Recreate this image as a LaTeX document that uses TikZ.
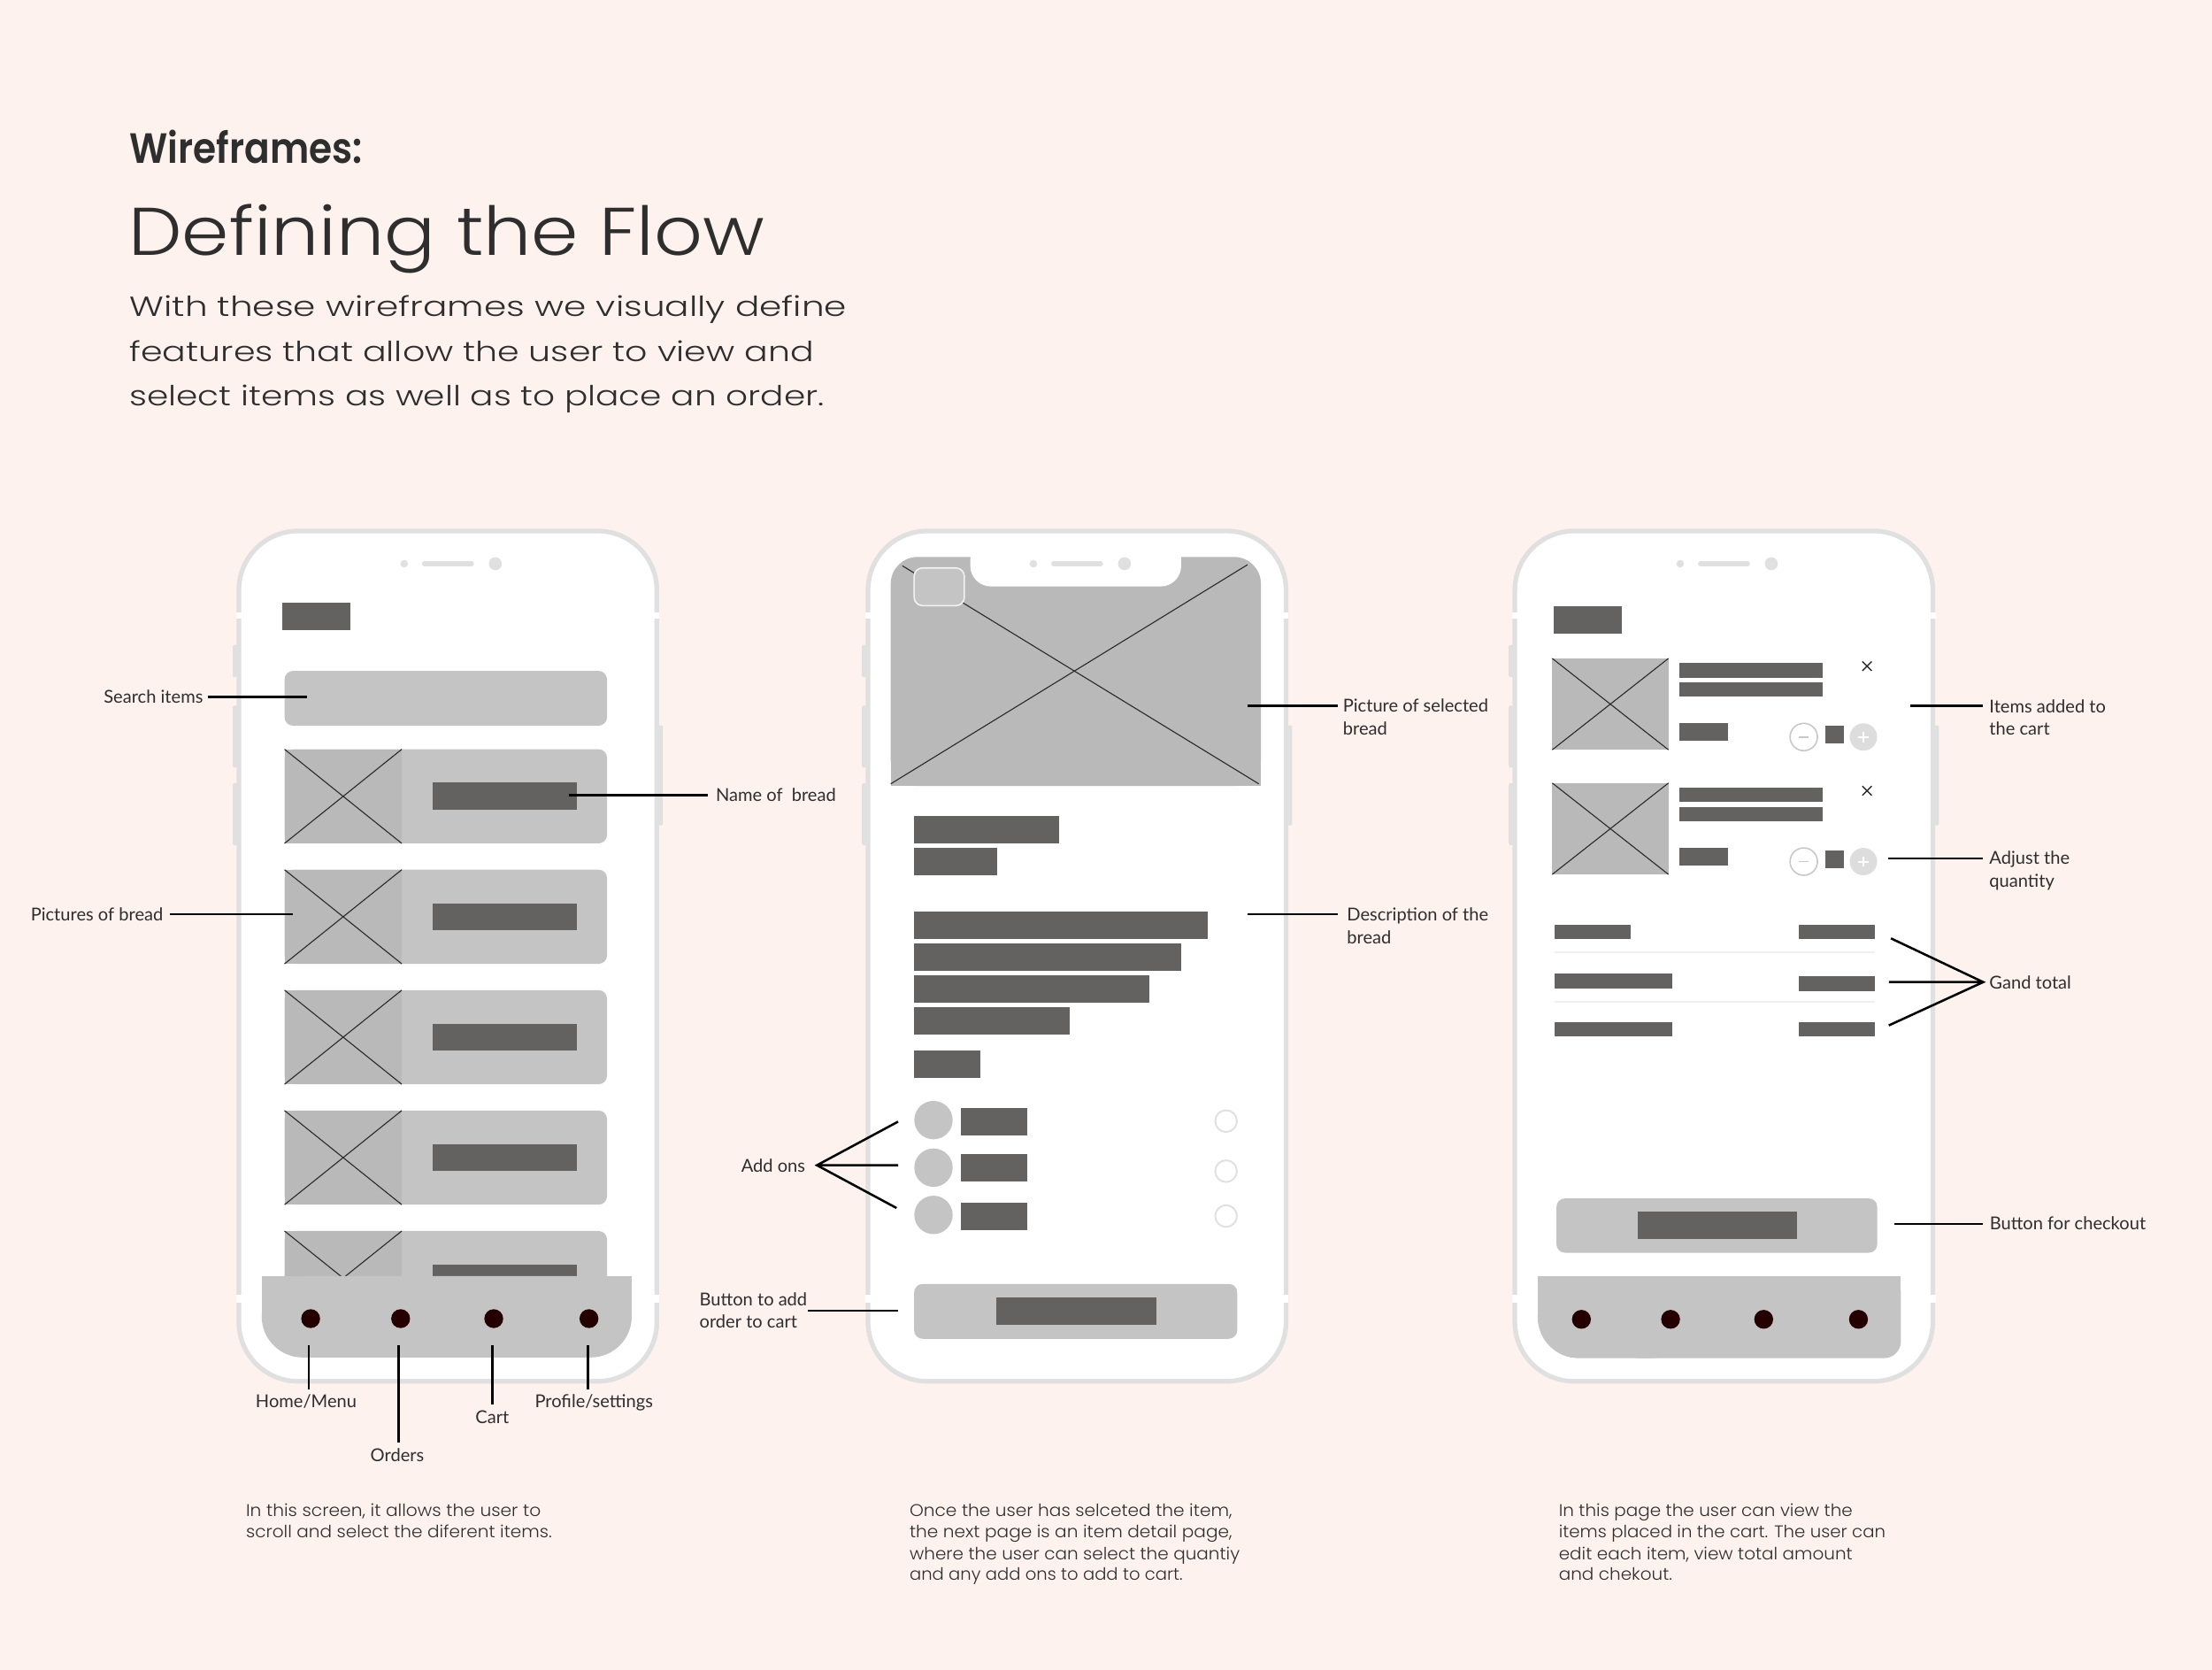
\documentclass[tikz,border=0pt]{standalone}
\usepackage{fontspec}
\setmainfont{Lato}
\newfontfamily\pop{Poppins}
\IfFontExistsTF{Poppins Light}{\newfontfamily\popl{Poppins Light}}{\newfontfamily\popl{Poppins}}
\IfFontExistsTF{Poppins SemiBold}{\newfontfamily\popsb{Poppins SemiBold}}{\newfontfamily\popsb{Poppins}[UprightFont=*, BoldFont=*]\def\popsbx{\bfseries}}
\providecommand{\popsbx}{}
\usetikzlibrary{calc}
\definecolor{bgc}{HTML}{FDF2EE}
\definecolor{framec}{HTML}{E0E0E0}
\definecolor{cardc}{HTML}{C4C4C4}
\definecolor{imgc}{HTML}{BAB9BA}
\definecolor{barc}{HTML}{636261}
\definecolor{dotc}{HTML}{250000}
\definecolor{txt}{HTML}{2E2E2E}
\definecolor{xlc}{HTML}{2A2A2A}
\definecolor{minusc}{HTML}{C8C8C8}
\definecolor{plusc}{HTML}{DDDDDD}
\definecolor{divc}{HTML}{F1EEEE}
\newcommand{\lbf}{\fontsize{6.3}{8}\selectfont}
\newcommand{\dsf}{\popl\fontsize{6}{7.5}\selectfont}
\newcommand{\speakerset}[1]{%
  \fill[framec] ({#1+117.2},399.5) circle[radius=1.35pt];
  \draw[framec, line width=1.65pt, line cap=round] ({#1+131.5},399.5) -- ({#1+165},399.5);
  \fill[framec] ({#1+181.8},399.5) circle[radius=2.3pt];}
\newcommand{\phoneframe}[1]{%
  \begin{scope}[shift={(#1,0)}]
    \fill[framec, rounded corners=0.7pt] (-4.3,457) rectangle (-1.2,480);
    \fill[framec, rounded corners=0.7pt] (-4.3,500) rectangle (-1.2,544);
    \fill[framec, rounded corners=0.7pt] (-4.3,555) rectangle (-1.2,599);
    \fill[framec, rounded corners=0.7pt] (297.5,514) rectangle (300.6,585);
    \filldraw[fill=white, draw=framec, line width=1.65pt, rounded corners=21pt] (0,376.3) rectangle (296.3,978.9);
    \fill[white] (-1.9,434) rectangle (1.9,438.6);
    \fill[white] (294.4,434) rectangle (298.2,438.6);
    \fill[white] (-1.9,917.6) rectangle (1.9,923);
    \fill[white] (294.4,917.6) rectangle (298.2,923);
  \end{scope}
  \speakerset{#1}}
\newcommand{\pcard}[1]{%
  \fill[cardc, rounded corners=3pt] (201.7,#1) rectangle (430.3,{#1+66.7});
  \fill[imgc] (201.7,#1) rectangle (284.8,{#1+66.7});
  \draw[xline] (201.7,#1) -- (284.8,{#1+66.7}) (284.8,#1) -- (201.7,{#1+66.7});
  \fill[barc] (306.7,{#1+23.7}) rectangle (408.7,{#1+43});}
\newcommand{\cartitem}[1]{%
  \fill[imgc] (1100.3,{466.6+#1}) rectangle (1182.7,{531.4+#1});
  \draw[xline] (1100.3,{466.6+#1}) -- (1182.7,{531.4+#1}) (1182.7,{466.6+#1}) -- (1100.3,{531.4+#1});
  \fill[barc] (1190.1,{470+#1}) rectangle (1291.8,{480.2+#1});
  \fill[barc] (1190.1,{483.4+#1}) rectangle (1291.8,{493.6+#1});
  \fill[barc] (1190.1,{512.4+#1}) rectangle (1224.9,{525+#1});
  \draw[xlc, line width=0.45pt] (1320.1,{468.8+#1}) -- (1326.7,{475.4+#1}) (1326.7,{468.8+#1}) -- (1320.1,{475.4+#1});
  \filldraw[fill=white, draw=minusc, line width=0.5pt] (1278.6,{522.3+#1}) circle[radius=4.85pt];
  \draw[minusc, line width=0.5pt] (1275,{522.3+#1}) -- (1282.2,{522.3+#1});
  \fill[barc] (1293.6,{514.3+#1}) rectangle (1307,{526.8+#1});
  \fill[plusc] (1320.9,{522.3+#1}) circle[radius=4.85pt];
  \draw[white, line width=0.6pt] (1317.3,{522.3+#1}) -- (1324.5,{522.3+#1}) (1320.9,{518.7+#1}) -- (1320.9,{525.9+#1});}
\begin{document}
\begin{tikzpicture}[x=0.5pt,y=-0.5pt,
  xline/.style={draw=xlc, line width=0.35pt},
  lead/.style={draw=black, line width=0.8pt},
  lbl/.style={font=\lbf, text=txt, inner sep=0pt},
  dsc/.style={text=txt, inner sep=0pt, anchor=base west},
  navdot/.style={fill=dotc}]
\fill[bgc] (0,0) rectangle (1568,1183.5);
\useasboundingbox (0,0) rectangle (1568,1183.5);

% ---------- headings ----------
\node[dsc] (wf) at (91.5,116) {\resizebox{82.5pt}{\height}{\popsb\popsbx\fontsize{15}{18}\selectfont Wireframes:}};
\node[dsc] (title) at (90.8,180.8) {\resizebox{225.4pt}{\height}{\popl\fontsize{23.9}{28}\selectfont Defining the Flow}};
\node[dsc] (sub1) at (91.5,224.1) {\resizebox{254.2pt}{\height}{\popl\fontsize{9.8}{12}\selectfont With these wireframes we visually define}};
\node[dsc] (sub2) at (91.5,256) {\resizebox{242.5pt}{\height}{\popl\fontsize{9.8}{12}\selectfont features that allow the user to view and}};
\node[dsc] (sub3) at (91.5,287.5) {\resizebox{246.2pt}{\height}{\popl\fontsize{9.8}{12}\selectfont select items as well as to place an order.}};

% ---------- phone frames ----------
\phoneframe{169.3}
\phoneframe{615.3}
\phoneframe{1073.8}

% ---------- phone 1: menu ----------
\fill[barc] (200,427) rectangle (248.5,446.6);
\fill[cardc, rounded corners=3pt] (201.7,475.5) rectangle (430.3,514.3);
\foreach \t in {531,616.35,701.7,787.05,872.4} {\pcard{\t}}
\fill[cardc, rounded corners=14.5pt] (185.5,904.4) rectangle (447.8,962);
\fill[cardc] (185.5,904.4) rectangle (447.8,934);
\foreach \x in {220.2,284,350,417.5} {\fill[navdot] (\x,934.5) circle[radius=3.35pt];}

% ---------- phone 2: detail ----------
\fill[imgc, rounded corners=9.5pt] (631.4,394.7) rectangle (893.8,557.1);
\fill[imgc] (631.4,440) rectangle (893.8,557.1);
\draw[xline] (639.7,401) -- (892.3,555.5) (884.3,400.2) -- (631.4,555.5);
\fill[white, rounded corners=7.3pt] (687.8,382) rectangle (837.3,415.6);
\speakerset{615.3}
\filldraw[fill=cardc, draw=white!80!cardc, line width=0.5pt, rounded corners=3pt] (648,402.5) rectangle (683.6,429.2);
\fill[barc] (648,578) rectangle (750.6,598);
\fill[barc] (648,600.7) rectangle (706.7,620);
\fill[barc] (648,646) rectangle (856,665.5);
\fill[barc] (648,668.5) rectangle (837,688);
\fill[barc] (648,691) rectangle (815,710.5);
\fill[barc] (648,713.5) rectangle (758,733);
\fill[barc] (648,744.3) rectangle (695.1,764.1);
\foreach \y/\b in {793.8/785, 827.5/818, 861/852.4} {
  \fill[cardc] (661.7,\y) circle[radius=6.8pt];
  \fill[barc] (681,\b) rectangle (728,{\b+19.4});}
\foreach \y in {794.5,830,861.8} {\filldraw[fill=white, draw=framec, line width=0.6pt] (869.1,\y) circle[radius=3.85pt];}
\fill[cardc, rounded corners=3pt] (648,909.9) rectangle (877,948.8);
\fill[barc] (706,919.5) rectangle (820,939.1);

% ---------- phone 3: cart ----------
\fill[barc] (1101.6,429.6) rectangle (1149.6,448.9);
\cartitem{0}
\cartitem{88.3}
\fill[barc] (1101.8,655.3) rectangle (1155.9,665.7);
\fill[barc] (1275.1,655.3) rectangle (1329.2,665.7);
\draw[divc, line width=0.6pt] (1102,674.8) -- (1329,674.8);
\fill[barc] (1101.8,690.1) rectangle (1185.7,700.5);
\fill[barc] (1275.1,691.9) rectangle (1329.2,702.3);
\draw[divc, line width=0.6pt] (1102,709.8) -- (1329,709.8);
\fill[barc] (1101.8,724.3) rectangle (1185.7,734.7);
\fill[barc] (1275.1,724.3) rectangle (1329.2,734.7);
\fill[cardc, rounded corners=3pt] (1103.3,849.3) rectangle (1330.7,887.8);
\fill[barc] (1161.1,858.8) rectangle (1273.8,878.3);
\fill[cardc, rounded corners=14.5pt] (1090,904.7) rectangle (1200,962.5);
\fill[cardc] (1090,904.7) rectangle (1347.5,934);
\fill[cardc, rounded corners=6pt] (1150,904.7) rectangle (1347.5,962.5);
\foreach \x in {1121,1184.2,1250.2,1317.4} {\fill[navdot] (\x,935) circle[radius=3.35pt];}

% ---------- labels phone 1 ----------
\node[lbl, anchor=base east] (lsearch) at (144.3,498.6) {Search items};
\coordinate (csearch) at (217.4,494);
\draw[lead] ($(lsearch.east |- csearch)+(3,0)$) -- (csearch);
\node[lbl, anchor=base east] (lpics) at (116,652.6) {Pictures of bread};
\coordinate (cpics) at (207.6,648);
\draw[lead] ($(lpics.east |- cpics)+(4.6,0)$) -- (cpics);
\node[lbl, anchor=base west] (lname) at (507,568) {Name of~ bread};
\coordinate (cname) at (403.5,563.4);
\draw[lead] (cname) -- ($(lname.west |- cname)+(-5,0)$);
\node[lbl, anchor=base] (lhome) at (217,997.6) {Home/Menu};
\node[lbl, anchor=base] (lorders) at (281.6,1035.6) {Orders};
\node[lbl, anchor=base] (lcart) at (349,1008.6) {Cart};
\node[lbl, anchor=base] (lprof) at (421,997.6) {Profile/settings};
\coordinate (n1) at (219,953.4);
\coordinate (n2) at (282.7,953.4);
\coordinate (n3) at (349,953.4);
\coordinate (n4) at (416.7,953.4);
\draw[lead] (n1) -- ($(n1 |- lhome.north)+(0,-3.5)$);
\draw[lead] (n2) -- ($(n2 |- lorders.north)+(0,-3.5)$);
\draw[lead] (n3) -- ($(n3 |- lcart.north)+(0,-3.5)$);
\draw[lead] (n4) -- ($(n4 |- lprof.north)+(0,-3.5)$);

% ---------- labels phone 2 ----------
\node[lbl, anchor=base west] (lpic) at (951.6,504.6) {Picture of selected};
\node[lbl, anchor=base west] (lpicb) at (951.6,520.6) {bread};
\coordinate (cpic) at (884.3,500.3);
\draw[lead] (cpic) -- ($(lpic.west |- cpic)+(-3.5,0)$);
\node[lbl, anchor=base west] (ldesc) at (954.4,652.6) {Description of the};
\node[lbl, anchor=base west] (ldescb) at (954.4,668.6) {bread};
\coordinate (cdesc) at (884.3,648);
\draw[lead] (cdesc) -- ($(ldesc.west |- cdesc)+(-6.3,0)$);
\node[lbl, anchor=base east] (ladd) at (571.2,830.4) {Add ons};
\coordinate (capex) at (579.1,825.8);
\coordinate (ca1) at (636.6,794.9);
\coordinate (ca2) at (636.6,825.8);
\coordinate (ca3) at (635.5,856.1);
\draw[lead] (ca1) -- (capex) -- (ca3) (capex) -- (ca2);
\node[lbl, anchor=base west] (lbtn) at (495.5,925.5) {Button to add};
\node[lbl, anchor=base west] (lbtnb) at (495.5,941.2) {order to cart};
\coordinate (cbtn) at (636.6,928.9);
\draw[lead] (572.8,928.9) -- (cbtn);

% ---------- labels phone 3 ----------
\node[lbl, anchor=base west] (litems) at (1409.8,504.9) {Items added to};
\node[lbl, anchor=base west] (litemsb) at (1409.8,520.6) {the cart};
\coordinate (citems) at (1354.1,500.3);
\draw[lead] (citems) -- ($(litems.west |- citems)+(-4.2,0)$);
\node[lbl, anchor=base west] (ladj) at (1409.8,612.6) {Adjust the};
\node[lbl, anchor=base west] (ladjb) at (1409.8,628.7) {quantity};
\coordinate (cadj) at (1338.4,608.4);
\draw[lead] (cadj) -- ($(ladj.west |- cadj)+(-4.2,0)$);
\node[lbl, anchor=base west] (lgand) at (1409.8,700.6) {Gand total};
\coordinate (gapex) at (1405.8,696);
\coordinate (g1) at (1340.4,665);
\coordinate (g2) at (1338.9,696);
\coordinate (g3) at (1338.9,726.7);
\draw[lead] (g1) -- (gapex) -- (g3) (gapex) -- (g2);
\node[lbl, anchor=base west] (lchk) at (1410,871.6) {Button for checkout};
\coordinate (cchk) at (1342.9,867.3);
\draw[lead] (cchk) -- ($(lchk.west |- cchk)+(-4.2,0)$);

% ---------- descriptions ----------
\node[dsc] (d11) at (174,1074.7) {\resizebox{104.5pt}{\height}{\dsf In this screen, it allows the user to}};
\node[dsc] (d12) at (174,1089.9) {\resizebox{108.4pt}{\height}{\dsf scroll and select the diferent items.}};
\node[dsc] (d21) at (644.4,1074.7) {\resizebox{114.3pt}{\height}{\dsf Once the user has selceted the item,}};
\node[dsc] (d22) at (644.4,1089.9) {\resizebox{114.3pt}{\height}{\dsf the next page is an item detail page,}};
\node[dsc] (d23) at (644.4,1105.6) {\resizebox{117pt}{\height}{\dsf where the user can select the quantiy}};
\node[dsc] (d24) at (644.4,1120) {\resizebox{96.8pt}{\height}{\dsf and any add ons to add to cart.}};
\node[dsc] (d31) at (1104.6,1074.7) {\resizebox{104.1pt}{\height}{\dsf In this page the user can view the}};
\node[dsc] (d32) at (1104.6,1089.9) {\resizebox{115.8pt}{\height}{\dsf items placed in the cart. The user can}};
\node[dsc] (d33) at (1104.6,1105.6) {\resizebox{104.1pt}{\height}{\dsf edit each item, view total amount}};
\node[dsc] (d34) at (1104.6,1120) {\resizebox{40.2pt}{\height}{\dsf and chekout.}};
\end{tikzpicture}
\end{document}
